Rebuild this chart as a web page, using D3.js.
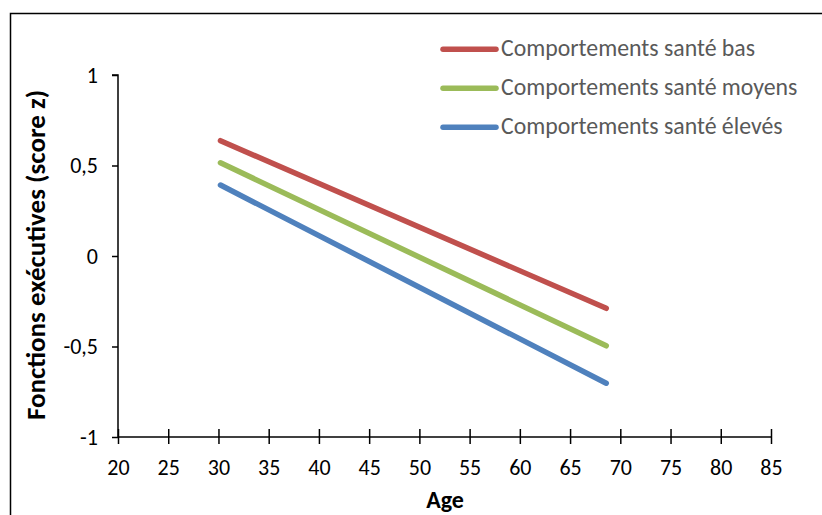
<!DOCTYPE html>
<html><head><meta charset="utf-8">
<script src="https://cdn.jsdelivr.net/npm/d3@7"></script>
<style>
html,body{margin:0;padding:0;background:#fff;}
svg{display:block;font-family:Carlito,Calibri,Lato,sans-serif;}
</style></head><body>
<svg id="c" width="822" height="515"></svg>
<script>
const seriesNames = ["Comportements santé bas","Comportements santé moyens","Comportements santé élevés"];
const seriesColors = ["#C0504D","#9BBB59","#4F81BD"];
const ages = [30.2, 68.6];
const valuesBas = [0.637, -0.289];
const valuesMoyens = [0.515, -0.496];
const valuesEleves = [0.392, -0.703];
const xTicks = [20,25,30,35,40,45,50,55,60,65,70,75,80,85];
const yTicks = [-1,-0.5,0,0.5,1];

const FONT = "Carlito,Calibri,Lato,sans-serif";
const svg = d3.select("#c");
// outer frame
svg.append("path").attr("d","M10.5,515 V13.5 H822").attr("fill","none").attr("stroke","#000").attr("stroke-width",1.5);

const x = d3.scaleLinear().domain([20,85]).range([118,771]);
const y = d3.scaleLinear().domain([-1,1]).range([437,75]);

// y axis
const ya = svg.append("g").attr("transform","translate(118,0)")
  .call(d3.axisLeft(y).tickValues(yTicks).tickSize(6).tickPadding(14)
    .tickFormat(d => String(d).replace(".",",")));
ya.select(".domain").attr("stroke","#000").attr("stroke-width",1.5).attr("d","M-6,"+y(1)+"H0V"+y(-1));
ya.selectAll(".tick line").attr("stroke-width",1.5);
ya.selectAll("text").attr("font-size",22).attr("font-family",FONT).attr("fill","#000");

// x axis
const xa = svg.append("g").attr("transform","translate(0,"+y(-1)+")")
  .call(d3.axisBottom(x).tickValues(xTicks).tickSize(7).tickPadding(15));
xa.select(".domain").attr("stroke","#000").attr("stroke-width",1.5).attr("d","M"+x(20)+",0H"+x(85));
xa.selectAll(".tick line").attr("stroke-width",1.5).attr("y1",-8).attr("y2",7);
xa.selectAll("text").attr("font-size",22).attr("font-family",FONT).attr("fill","#000");

// lines
const allVals = [valuesBas, valuesMoyens, valuesEleves];
const line = d3.line().x(d=>x(d[0])).y(d=>y(d[1]));
allVals.forEach((vals,i)=>{
  svg.append("path").datum(ages.map((a,j)=>[a,vals[j]]))
    .attr("d",line).attr("fill","none").attr("stroke",seriesColors[i])
    .attr("stroke-width",5.5).attr("stroke-linecap","round");
});

// axis titles
svg.append("text").attr("x",445).attr("y",508).attr("text-anchor","middle")
  .attr("font-weight","bold").attr("font-size",24).text("Age");
svg.append("text").attr("transform","translate(45,255) rotate(-90)").attr("text-anchor","middle")
  .attr("font-weight","bold").attr("font-size",27).text("Fonctions exécutives (score z)");

// legend
const lg = svg.append("g");
seriesNames.forEach((n,i)=>{
  const yy = 49.3 + i*39;
  lg.append("line").attr("x1",443).attr("x2",496).attr("y1",yy).attr("y2",yy)
    .attr("stroke",seriesColors[i]).attr("stroke-width",5.5).attr("stroke-linecap","round");
  lg.append("text").attr("x",501).attr("y",yy+7).attr("font-size",23.8).attr("fill","#595959").text(n);
});
</script></body></html>
